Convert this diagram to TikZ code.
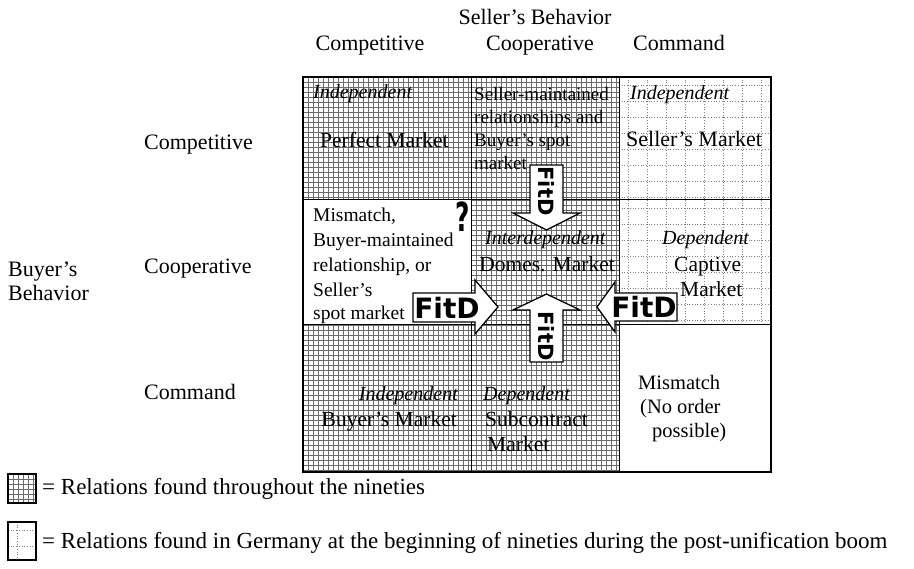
\documentclass[tikz,border=0pt]{standalone}
\usepackage{fontspec}
\setmainfont{Liberation Serif}
\newfontfamily\fitfont{DejaVu Sans}
\newcommand\fsz[1]{\fontsize{#1}{#1}\selectfont}
\newcommand\densegrid[4]{%
  \begin{scope}
    \clip (#1,#2) rectangle (#3,#4);
    \foreach \gx in {0,5,...,175} \draw[dg] ({#1+\gx},#2) -- ({#1+\gx},#4);
    \foreach \gy in {0,5,...,165} \draw[dg] (#1,{#2+\gy}) -- (#3,{#2+\gy});
  \end{scope}}
\newcommand\dotgrid[4]{%
  \begin{scope}
    \clip (#1,#2) rectangle (#3,#4);
    \foreach \gx in {9,28,...,180} \draw[dt] ({#1+\gx},#2) -- ({#1+\gx},#4);
    \foreach \gy in {8,24,...,170} \draw[dt] (#1,{#2+\gy}) -- (#3,{#2+\gy});
  \end{scope}}
\begin{document}
\begin{tikzpicture}[x=1pt,y=-1pt,
  dg/.style={black!58,line width=0.85pt},
  dt/.style={black!50,dotted,line width=0.7pt},
  hdr/.style={font=\fsz{22},inner sep=0pt},
  cell/.style={font=\fsz{21.5},inner sep=0pt},
  ital/.style={font=\fsz{20}\itshape,inner sep=0pt},
  lst/.style={font=\fsz{19.5},inner sep=0pt},
  leg/.style={font=\fsz{23},inner sep=0pt},
  blockarrow/.style={fill=white,draw=black,line width=1.3pt,line join=miter},
  fitbig/.style={font=\fitfont\bfseries\fsz{28},inner sep=0pt},
  fitsmall/.style={font=\fitfont\bfseries\fsz{21},inner sep=0pt,rotate=-90},
  divider/.style={line width=1pt},
  frame/.style={line width=1.6pt}]
\useasboundingbox (0,0) rectangle (914,569);

% cell fills
\densegrid{303}{77}{471}{200}
\densegrid{471}{77}{619}{200}
\dotgrid{619}{77}{771}{200}
\densegrid{471}{200}{619}{325}
\dotgrid{619}{200}{771}{325}
\densegrid{303}{325}{471}{472}
\densegrid{471}{325}{619}{472}

% borders
\draw[divider] (471,77) -- (471,472);
\draw[divider] (619,77) -- (619,472);
\draw[divider] (303,200) -- (771,200);
\draw[divider] (303,325) -- (771,325);
\draw[frame] (303,77) rectangle (771,472);

% headers
\node[hdr,anchor=base] (sb) at (535,25) {Seller's Behavior};
\node[hdr,anchor=base] (hc1) at (370,51) {Competitive};
\node[hdr,anchor=base] (hc2) at (540,51) {Cooperative};
\node[hdr,anchor=base] (hc3) at (679,51) {Command};
\node[hdr,anchor=base west] (rr1) at (144,150) {Competitive};
\node[hdr,anchor=base west] (rr2) at (144,274) {Cooperative};
\node[hdr,anchor=base west] (rr3) at (144,400) {Command};
\node[hdr,anchor=base west] (bb1) at (8,277) {Buyer's};
\node[hdr,anchor=base west] (bb2) at (8,301) {Behavior};

% row 1
\node[ital,anchor=base west] (t11a) at (313,99) {Independent};
\node[cell,anchor=base west] (t11b) at (320,148) {Perfect Market};
\node[lst,font=\fsz{19},anchor=base west] (t12a) at (474,101) {Seller-maintained};
\node[lst,font=\fsz{19},anchor=base west] (t12b) at (474,124) {relationships and};
\node[lst,font=\fsz{19},anchor=base west] (t12c) at (474,147) {Buyer's spot};
\node[lst,font=\fsz{19},anchor=base west] (t12d) at (474,170) {market};
\node[ital,anchor=base west] (t13a) at (630,100) {Independent};
\node[cell,font=\fsz{22},anchor=base west] (t13b) at (626,147) {Seller's Market};

% row 2
\node[lst,anchor=base west] (t21a) at (313,222) {Mismatch,};
\node[lst,anchor=base west] (t21b) at (313,247) {Buyer-maintained};
\node[lst,anchor=base west] (t21c) at (313,272) {relationship, or};
\node[lst,anchor=base west] (t21d) at (313,297) {Seller's};
\node[lst,anchor=base west] (t21e) at (313,320) {spot market};
\node[inner sep=0pt] (qm) at (463,217) {\scalebox{0.62}[1]{\fitfont\bfseries\fsz{40}?}};
\node[ital,anchor=base west] (t22a) at (485,245) {Interdependent};
\node[cell,anchor=base east] (t22b) at (615,272) {Domes. Market};
\node[ital,anchor=base west] (t23a) at (662,245) {Dependent};
\node[cell,anchor=base west] (t23b) at (674,272) {Captive};
\node[cell,anchor=base west] (t23c) at (680,297) {Market};

% row 3
\node[ital,anchor=base east] (t31a) at (458,401) {Independent};
\node[cell,anchor=base east] (t31b) at (457,427) {Buyer's Market};
\node[ital,anchor=base west] (t32a) at (483,401) {Dependent};
\node[cell,anchor=base west] (t32b) at (485,427) {Subcontract};
\node[cell,anchor=base west] (t32c) at (487,452) {Market};
\node[cell,font=\fsz{20.5},anchor=base west] (t33a) at (638,390) {Mismatch};
\node[cell,font=\fsz{20.5},anchor=base west] (t33b) at (640,414) {(No order};
\node[cell,font=\fsz{20.5},anchor=base west] (t33c) at (652,438) {possible)};

% block arrows
\draw[blockarrow] (413,293) -- (475,293) -- (475,280) -- (498,307) -- (475,334) -- (475,322) -- (413,322) -- cycle;
\node[fitbig] (fl) at (447,307.5) {FitD};
\draw[blockarrow] (677,293) -- (615,293) -- (615,282) -- (597,307) -- (615,332) -- (615,321) -- (677,321) -- cycle;
\node[fitbig] (fr) at (644,307) {FitD};
\draw[blockarrow] (530,165) -- (563,165) -- (563,213) -- (580,213) -- (546.5,230) -- (513,213) -- (530,213) -- cycle;
\node[fitsmall] (ft) at (546.5,191) {FitD};
\draw[blockarrow] (530,362) -- (563,362) -- (563,310) -- (580,310) -- (546.5,294) -- (513,310) -- (530,310) -- cycle;
\node[fitsmall] (fb) at (546.5,336) {FitD};

% legend
\densegrid{8}{474}{36}{503}
\draw[line width=1.2pt] (8,474) rectangle (36,503);
\node[leg,anchor=base west] (l1) at (42,495) {= Relations found throughout the nineties};
\dotgrid{8}{522}{36}{560}
\draw[line width=1.2pt] (8,522) rectangle (36,560);
\node[leg,anchor=base west] (l2) at (42,548) {= Relations found in Germany at the beginning of nineties during the post-unification boom};
\end{tikzpicture}
\end{document}
